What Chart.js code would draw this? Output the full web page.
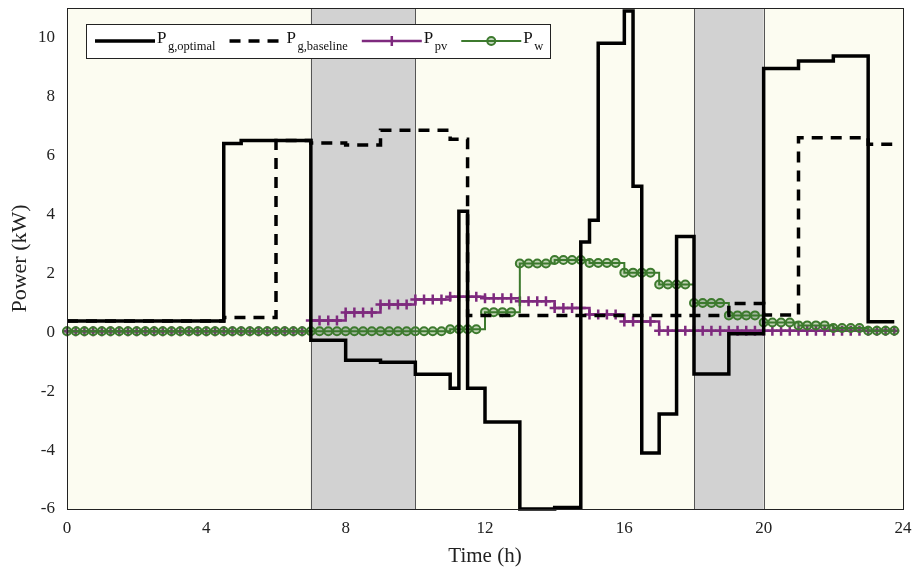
<!DOCTYPE html>
<html>
<head>
<meta charset="utf-8">
<title>Power</title>
<script src="https://cdn.jsdelivr.net/npm/chart.js@4.4.0/dist/chart.umd.min.js"></script>
<style>
  html, body { margin: 0; padding: 0; background: #fff; }
  #contenedor { width: 913px; height: 572px; position: relative; }
</style>
</head>
<body>
<div id="contenedor"><canvas id="graficoPotencia"></canvas></div>
<script>
// Intervalos de 15 min (h)
const horas = Array.from({ length: 96 }, (_, i) => i * 0.25);

// Valores (kW), 4 por hora
const pgOptimal = [
    0.38, 0.38, 0.38, 0.38,   0.38, 0.38, 0.38, 0.38,   0.38, 0.38, 0.38, 0.38,   0.38, 0.38, 0.38, 0.38,
    0.38, 0.38, 6.4, 6.4,     6.5, 6.5, 6.5, 6.5,       6.5, 6.5, 6.5, 6.5,       -0.27, -0.27, -0.27, -0.27,
    -0.95, -0.95, -0.95, -0.95, -1.02, -1.02, -1.02, -1.02, -1.43, -1.43, -1.43, -1.43, -1.9, 4.1, -1.9, -1.9,
    -3.05, -3.05, -3.05, -3.05, -6.0, -6.0, -6.0, -6.0, -5.95, -5.95, -5.95, 3.06,   3.8, 9.8, 9.8, 9.8,
    10.9, 4.95, -4.1, -4.1,   -2.78, -2.78, 3.25, 3.25, -1.42, -1.42, -1.42, -1.42, -0.05, -0.05, -0.05, -0.05,
    8.95, 8.95, 8.95, 8.95,   9.2, 9.2, 9.2, 9.2,       9.37, 9.37, 9.37, 9.37,   0.35, 0.35, 0.35, 0.35
];

const pgBaseline = [
    0.38, 0.38, 0.38, 0.38,   0.38, 0.38, 0.38, 0.38,   0.38, 0.38, 0.38, 0.38,   0.38, 0.38, 0.38, 0.38,
    0.38, 0.38, 0.5, 0.5,     0.5, 0.5, 0.5, 0.5,       6.5, 6.5, 6.5, 6.5,       6.42, 6.42, 6.42, 6.42,
    6.35, 6.35, 6.35, 6.35,   6.85, 6.85, 6.85, 6.85,   6.85, 6.85, 6.85, 6.85,   6.55, 6.55, 0.57, 0.57,
    0.57, 0.57, 0.57, 0.57,   0.57, 0.57, 0.57, 0.57,   0.57, 0.57, 0.57, 0.57,   0.57, 0.57, 0.57, 0.57,
    0.57, 0.57, 0.57, 0.57,   0.57, 0.57, 0.57, 0.57,   0.57, 0.57, 0.57, 0.57,   0.97, 0.97, 0.97, 0.97,
    0.58, 0.58, 0.58, 0.58,   6.6, 6.6, 6.6, 6.6,       6.6, 6.6, 6.6, 6.6,       6.38, 6.38, 6.38, 6.38
];

const pPv = [
    0.03, 0.03, 0.03, 0.03,   0.03, 0.03, 0.03, 0.03,   0.03, 0.03, 0.03, 0.03,   0.03, 0.03, 0.03, 0.03,
    0.03, 0.03, 0.03, 0.03,   0.03, 0.03, 0.03, 0.03,   0.03, 0.03, 0.03, 0.03,   0.4, 0.4, 0.4, 0.4,
    0.67, 0.67, 0.67, 0.67,   0.94, 0.94, 0.94, 0.94,   1.11, 1.11, 1.11, 1.11,   1.2, 1.2, 1.2, 1.2,
    1.15, 1.15, 1.15, 1.15,   1.05, 1.05, 1.05, 1.05,   0.82, 0.82, 0.82, 0.82,   0.6, 0.6, 0.6, 0.6,
    0.36, 0.36, 0.36, 0.36,   0.05, 0.05, 0.05, 0.05,   0.05, 0.05, 0.05, 0.05,   0.05, 0.05, 0.05, 0.05,
    0.05, 0.05, 0.05, 0.05,   0.05, 0.05, 0.05, 0.05,   0.05, 0.05, 0.05, 0.05,   0.05, 0.05, 0.05, 0.05
];

const pW = [
    0.03, 0.03, 0.03, 0.03,   0.03, 0.03, 0.03, 0.03,   0.03, 0.03, 0.03, 0.03,   0.03, 0.03, 0.03, 0.03,
    0.03, 0.03, 0.03, 0.03,   0.03, 0.03, 0.03, 0.03,   0.03, 0.03, 0.03, 0.03,   0.03, 0.03, 0.03, 0.03,
    0.03, 0.03, 0.03, 0.03,   0.03, 0.03, 0.03, 0.03,   0.03, 0.03, 0.03, 0.03,   0.1, 0.1, 0.1, 0.1,
    0.68, 0.68, 0.68, 0.68,   2.33, 2.33, 2.33, 2.33,   2.45, 2.45, 2.45, 2.45,   2.35, 2.35, 2.35, 2.35,
    2.02, 2.02, 2.02, 2.02,   1.62, 1.62, 1.62, 1.62,   0.99, 0.99, 0.99, 0.99,   0.57, 0.57, 0.57, 0.57,
    0.33, 0.33, 0.33, 0.33,   0.23, 0.23, 0.23, 0.23,   0.14, 0.14, 0.14, 0.14,   0.05, 0.05, 0.05, 0.05
];

const xTicks = [0, 4, 8, 12, 16, 20, 24];
const yTicks = [-6, -4, -2, 0, 2, 4, 6, 8, 10];
const periodosSombreados = [[7, 10], [18, 20]];
const etiquetasLeyenda = [['P', 'g,optimal'], ['P', 'g,baseline'], ['P', 'pv'], ['P', 'w']];

const FUENTE = '"Liberation Serif", "Times New Roman", serif';
const MORADO = '#7e2a7e';
const VERDE = '#3d7a2e';

// Fondo crema, franjas grises y marco del área de trazado
const fondoPlugin = {
    id: 'fondo',
    beforeDatasetsDraw(chart) {
        const { ctx, chartArea: a, scales: { x } } = chart;
        ctx.save();
        ctx.fillStyle = '#fcfcf1';
        ctx.fillRect(a.left, a.top, a.right - a.left, a.bottom - a.top);
        periodosSombreados.forEach(([ini, fin]) => {
            const x0 = x.getPixelForValue(ini);
            const x1 = x.getPixelForValue(fin);
            ctx.fillStyle = '#d2d2d2';
            ctx.fillRect(x0, a.top, x1 - x0, a.bottom - a.top);
            ctx.strokeStyle = '#555';
            ctx.lineWidth = 1;
            ctx.beginPath();
            ctx.moveTo(Math.round(x0) + 0.5, a.top);
            ctx.lineTo(Math.round(x0) + 0.5, a.bottom);
            ctx.moveTo(Math.round(x1) + 0.5, a.top);
            ctx.lineTo(Math.round(x1) + 0.5, a.bottom);
            ctx.stroke();
        });
        ctx.restore();
    },
    afterDatasetsDraw(chart) {
        const { ctx, chartArea: a } = chart;
        ctx.save();
        ctx.strokeStyle = '#222';
        ctx.lineWidth = 1;
        ctx.strokeRect(Math.round(a.left) + 0.5, Math.round(a.top) + 0.5,
            Math.round(a.right - a.left), Math.round(a.bottom - a.top));
        ctx.restore();
    }
};

// Leyenda con subíndices
const leyendaPlugin = {
    id: 'leyendaSub',
    afterDraw(chart) {
        const { ctx, chartArea: a } = chart;
        const izq = a.left + 19;
        const arriba = a.top + 16;
        const alto = 34;
        const yLinea = arriba + 17;
        const fuenteP = '17px ' + FUENTE;
        const fuenteSub = '12.5px ' + FUENTE;

        ctx.save();
        let x = izq + 9;
        const posiciones = [];
        chart.data.datasets.forEach((ds, i) => {
            const largo = i === 1 ? 55 : 60;
            posiciones.push({ x, largo });
            x += largo + 2;
            ctx.font = fuenteP;
            const wP = ctx.measureText(etiquetasLeyenda[i][0]).width;
            ctx.font = fuenteSub;
            const wS = ctx.measureText(etiquetasLeyenda[i][1]).width;
            posiciones[i].xP = x;
            posiciones[i].xS = x + wP + 1.5;
            x += wP + 1.5 + wS + (i < 3 ? 14 : 7);
        });
        const ancho = x - izq;

        ctx.fillStyle = '#fff';
        ctx.fillRect(izq, arriba, ancho, alto);
        ctx.strokeStyle = '#222';
        ctx.lineWidth = 1;
        ctx.strokeRect(Math.round(izq) + 0.5, Math.round(arriba) + 0.5, Math.round(ancho), alto);

        chart.data.datasets.forEach((ds, i) => {
            const p = posiciones[i];
            const xc = p.x + p.largo / 2;
            ctx.save();
            ctx.strokeStyle = ds.borderColor;
            ctx.lineWidth = ds.borderWidth;
            ctx.setLineDash(ds.borderDash || []);
            ctx.beginPath();
            ctx.moveTo(p.x, yLinea);
            ctx.lineTo(p.x + p.largo, yLinea);
            ctx.stroke();
            ctx.restore();
            if (ds.pointRadius > 0) {
                ctx.save();
                ctx.fillStyle = ds.pointBackgroundColor;
                ctx.strokeStyle = ds.pointBorderColor;
                ctx.lineWidth = ds.pointBorderWidth;
                ctx.beginPath();
                if (ds.pointStyle === 'circle') {
                    ctx.arc(xc, yLinea, ds.pointRadius, 0, Math.PI * 2);
                    ctx.fill();
                } else {
                    ctx.moveTo(xc, yLinea - ds.pointRadius);
                    ctx.lineTo(xc, yLinea + ds.pointRadius);
                }
                ctx.stroke();
                ctx.restore();
            }
            ctx.fillStyle = '#111';
            ctx.textBaseline = 'alphabetic';
            ctx.textAlign = 'left';
            ctx.font = fuenteP;
            ctx.fillText(etiquetasLeyenda[i][0], p.xP, arriba + 19);
            ctx.font = fuenteSub;
            ctx.fillText(etiquetasLeyenda[i][1], p.xS, arriba + 26);
        });
        ctx.restore();
    }
};

function generarGraficoPotencia() {
    const ctx = document.getElementById('graficoPotencia').getContext('2d');

    const data = {
        labels: horas,
        datasets: [{
            label: 'Pg,optimal',
            data: pgOptimal,
            borderColor: '#000',
            borderWidth: 3.5,
            stepped: true,
            pointRadius: 0,
            order: 0
        }, {
            label: 'Pg,baseline',
            data: pgBaseline,
            borderColor: '#000',
            borderWidth: 3.5,
            borderDash: [11, 8],
            stepped: true,
            pointRadius: 0,
            order: 1
        }, {
            label: 'Ppv',
            data: pPv,
            borderColor: MORADO,
            borderWidth: 2.5,
            stepped: true,
            pointStyle: 'cross',
            pointRadius: 5,
            pointBorderWidth: 2.5,
            pointBorderColor: MORADO,
            pointBackgroundColor: MORADO,
            order: 3
        }, {
            label: 'Pw',
            data: pW,
            borderColor: VERDE,
            borderWidth: 2,
            stepped: true,
            pointStyle: 'circle',
            pointRadius: 4,
            pointBorderWidth: 2,
            pointBorderColor: VERDE,
            pointBackgroundColor: 'rgba(61, 122, 46, 0.3)',
            order: 2
        }]
    };

    const config = {
        type: 'line',
        data: data,
        options: {
            responsive: true,
            maintainAspectRatio: false,
            animation: false,
            clip: false,
            layout: { padding: { top: 8, right: 10, left: 0, bottom: 0 } },
            plugins: {
                legend: { display: false },
                tooltip: { enabled: false }
            },
            scales: {
                x: {
                    type: 'linear',
                    min: 0,
                    max: 24,
                    afterBuildTicks: (eje) => { eje.ticks = xTicks.map(v => ({ value: v })); },
                    afterFit: (eje) => {
                        eje.height = 63;
                        eje.paddingLeft = 0;
                        eje.paddingRight = 0;
                    },
                    grid: { display: false, drawTicks: false },
                    border: { display: false },
                    ticks: {
                        font: { family: FUENTE, size: 17 },
                        color: '#222',
                        padding: 9,
                        maxRotation: 0
                    },
                    title: {
                        display: true,
                        text: 'Time (h)',
                        font: { family: FUENTE, size: 21 },
                        color: '#222',
                        padding: { top: 0, bottom: 3 }
                    }
                },
                y: {
                    min: -6,
                    max: 11,
                    afterBuildTicks: (eje) => { eje.ticks = yTicks.map(v => ({ value: v })); },
                    afterFit: (eje) => {
                        eje.width = 67;
                        eje.paddingTop = 0;
                        eje.paddingBottom = 0;
                    },
                    grid: { display: false, drawTicks: false },
                    border: { display: false },
                    ticks: {
                        font: { family: FUENTE, size: 17 },
                        color: '#222',
                        padding: 12
                    },
                    title: {
                        display: true,
                        text: 'Power (kW)',
                        font: { family: FUENTE, size: 22 },
                        color: '#222',
                        padding: { top: 7, bottom: 0 }
                    }
                }
            }
        },
        plugins: [fondoPlugin, leyendaPlugin]
    };

    new Chart(ctx, config);
}

document.addEventListener('DOMContentLoaded', function() {
    if (typeof Chart !== 'undefined') {
        generarGraficoPotencia();
    } else {
        console.error('Chart.js no está cargado.');
    }
});
</script>
</body>
</html>
